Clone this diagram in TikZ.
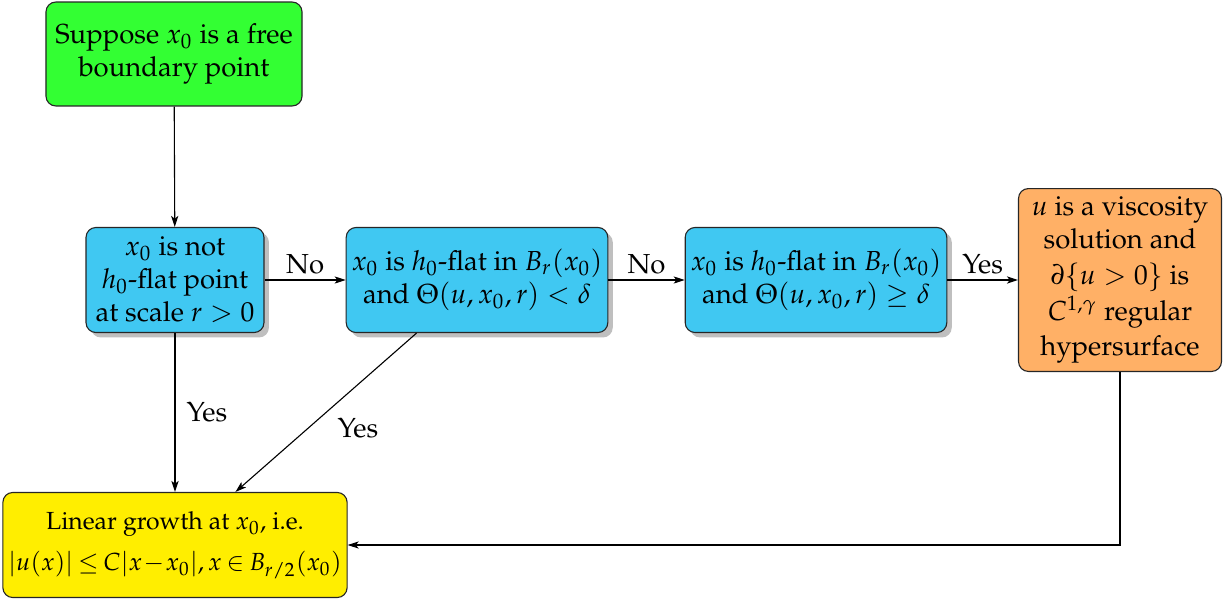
\documentclass[tikz,border=0pt]{standalone}
\usepackage[T1]{fontenc}
\usepackage{mathpazo}
\usetikzlibrary{arrows.meta,shadows}
\definecolor{boxgreen}{RGB}{51,255,51}
\definecolor{boxblue}{RGB}{64,200,242}
\definecolor{boxorange}{RGB}{255,176,102}
\definecolor{boxyellow}{RGB}{255,238,0}
\begin{document}
\begin{tikzpicture}[x=0.3636pt,y=-0.3636pt,
  font=\fontsize{10}{12}\selectfont,
  base/.style={draw=black!85,rounded corners=3.6pt,align=center,inner sep=2pt,line width=0.4pt},
  greenbox/.style={base,fill=boxgreen,minimum width=93.1pt,minimum height=37.8pt},
  bluebox/.style={base,fill=boxblue,minimum height=38.2pt,
    drop shadow={shadow xshift=1.8pt,shadow yshift=-1.8pt,fill=black!25,opacity=1}},
  orangebox/.style={base,fill=boxorange,minimum width=73.8pt,minimum height=66.5pt},
  yellowbox/.style={base,fill=boxyellow,minimum width=122.2pt,minimum height=38.2pt,
    font=\fontsize{9}{11}\selectfont},
  conn/.style={-{Stealth[length=4pt,width=2.6pt,inset=1pt]},line width=0.4pt},
  lbl/.style={inner sep=2pt}]
\useasboundingbox (0,0) rectangle (1231,602);
\node[greenbox] (start) at (174,54) {Suppose $x_0$ is a free\\boundary point};
\node[bluebox,minimum width=64.7pt] (notflat) at (175,280) {$x_0$ is not\\$h_0$-flat point\\at scale $r>0$};
\node[bluebox,minimum width=93.8pt] (flatsmall) at (477,280) {$x_0$ is $h_0$-flat in $B_r(x_0)$\\and $\Theta(u,x_0,r)<\delta$};
\node[bluebox,minimum width=93.8pt] (flatbig) at (816,280) {$x_0$ is $h_0$-flat in $B_r(x_0)$\\and $\Theta(u,x_0,r)\geq\delta$};
\node[orangebox] (visc) at (1120,280) {$u$ is a viscosity\\solution and\\[1pt]$\partial\{u>0\}$ is\\[1pt]$C^{1,\gamma}$ regular\\[1pt]hypersurface};
\node[yellowbox] (lin) at (175,545) {Linear growth at $x_0$, i.e.\\[4pt]$\medmuskip=1mu\thickmuskip=3.5mu|u(x)|\leq C|x-x_0|, x\in B_{r/2}(x_0)$};
\draw[conn] (start) -- (notflat);
\draw[conn] (notflat) -- node[lbl,above] {No} (flatsmall);
\draw[conn] (flatsmall) -- node[lbl,above] {No} (flatbig);
\draw[conn] (flatbig) -- node[lbl,above] {Yes} (visc);
\draw[conn] (notflat) -- node[lbl,right,xshift=2pt] {Yes} (lin);
\draw[conn] (flatsmall) -- node[lbl,below right,xshift=2pt] {Yes} (lin);
\draw[conn] (visc.south) |- (lin.east);
\end{tikzpicture}
\end{document}
